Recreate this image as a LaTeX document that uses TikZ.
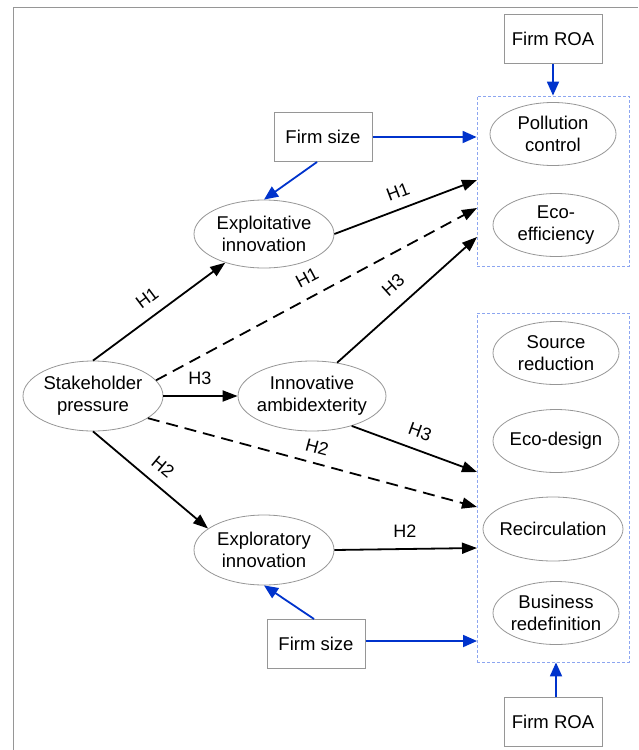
\documentclass[tikz,border=0pt]{standalone}
\usepackage{fontspec}
\setmainfont{Liberation Sans}
\usetikzlibrary{shapes.geometric,arrows.meta,calc}
\definecolor{ablue}{RGB}{0,51,204}
\definecolor{dblue}{RGB}{140,165,240}
\definecolor{fgray}{RGB}{150,150,150}
\begin{document}
\begin{tikzpicture}[x=1pt,y=-1pt,
  every node/.style={font=\fontsize{18.5}{22}\selectfont},
  ell/.style={ellipse, draw=fgray, line width=0.8pt, inner sep=0pt},
  etxt/.style={align=center},
  box/.style={rectangle, draw=fgray, line width=1pt, minimum width=98pt, minimum height=49pt, inner sep=0pt},
  grp/.style={rectangle, draw=dblue, dash pattern=on 3pt off 2pt, line width=0.8pt, inner sep=0pt},
  harrow/.style={line width=1.8pt, -{Triangle[length=15pt,width=11pt]}},
  darrow/.style={harrow, dash pattern=on 12pt off 7pt},
  barrow/.style={color=ablue, line width=1.8pt, -{Triangle[length=14pt,width=12pt]}},
  hl/.style={font=\fontsize{18}{20}\selectfont, inner sep=1pt}
]
\useasboundingbox (0,0) rectangle (638,750);
\draw[fgray, line width=1pt] (13,750) -- (13,7) -- (638,7);

% nodes
\node[box] (roa1) at (553,39) {Firm ROA};
\node[grp, minimum width=152pt, minimum height=170pt] (g1) at (553,181) {};
\node[grp, minimum width=152pt, minimum height=349pt] (g2) at (553,487.5) {};
\node[ell, minimum width=126pt, minimum height=63pt, label={[etxt]center:Pollution\\control}] (pc) at (553,134) {};
\node[ell, minimum width=126pt, minimum height=63pt, label={[etxt]center:Eco-\\efficiency}] (ee) at (556,225) {};
\node[box] (fs1) at (323,137) {Firm size};
\node[ell, minimum width=140pt, minimum height=68pt, label={[etxt]center:Exploitative\\innovation}] (exi) at (264,234) {};
\node[ell, minimum width=140pt, minimum height=70pt, label={[etxt]center:Stakeholder\\pressure}] (sp) at (93,396) {};
\node[ell, minimum width=148pt, minimum height=70pt, label={[etxt]center:Innovative\\ambidexterity}] (ia) at (312,396) {};
\node[ell, minimum width=140pt, minimum height=70pt, label={[etxt]center:Exploratory\\innovation}] (exr) at (264,550) {};
\node[ell, minimum width=126pt, minimum height=63pt, label={[etxt]center:Source\\reduction}] (sr) at (556,353) {};
\node[ell, minimum width=126pt, minimum height=63pt, label={[etxt]center:Eco-design}] (ed) at (556,441) {};
\node[ell, minimum width=140pt, minimum height=64pt, label={[etxt]center:Recirculation}] (rc) at (553,529) {};
\node[ell, minimum width=126pt, minimum height=63pt, label={[etxt]center:Business\\redefinition}] (bd) at (556,613) {};
\node[box] (fs2) at (316,644) {Firm size};
\node[box] (roa2) at (553,722) {Firm ROA};

% connector end points on the group boxes
\coordinate (a2) at (477,180);
\coordinate (a3) at (477,208);
\coordinate (a4) at (477,237);
\coordinate (b1) at (477,472);
\coordinate (b2) at (477,507);
\coordinate (b3) at (477,548);
\coordinate (b4) at (477,641);

% blue arrows
\draw[barrow] (roa1.south) -- (g1.north);
\draw[barrow] (fs1.east) -- (g1.west |- fs1.east);
\draw[barrow] ($(fs1.south)+(-6,0)$) -- (exi.north);
\draw[barrow] ($(roa2.north)+(3,0)$) -- ($(g2.south)+(3,0)$);
\draw[barrow] (fs2.east |- b4) -- (b4);
\draw[barrow] ($(fs2.north)+(-2,0)$) -- (exr.south);

% black arrows
\draw[harrow] (sp.north) -- (exi);
\draw[darrow] (sp.14) -- (a3);
\draw[harrow] (sp.east) -- (ia.west);
\draw[darrow] (sp.-22) -- (b2);
\draw[harrow] (sp.south) -- (exr.159);
\draw[harrow] (exi.east) -- (a2);
\draw[harrow] (ia.53) -- (a4);
\draw[harrow] (ia.-37) -- (b1);
\draw[harrow] (exr.east) -- (b3);

% labels
\node[hl, rotate=37] (l1) at (147,298) {H1};
\node[hl, rotate=28] (l2) at (307,278) {H1};
\node[hl] (l3) at (200,378) {H3};
\node[hl, rotate=-15] (l4) at (317,447) {H2};
\node[hl, rotate=-40] (l5) at (163,467) {H2};
\node[hl, rotate=21] (l6) at (398,192) {H1};
\node[hl, rotate=42] (l7) at (393,285) {H3};
\node[hl, rotate=-20] (l8) at (420,432) {H3};
\node[hl] (l9) at (405,531) {H2};
\end{tikzpicture}
\end{document}
